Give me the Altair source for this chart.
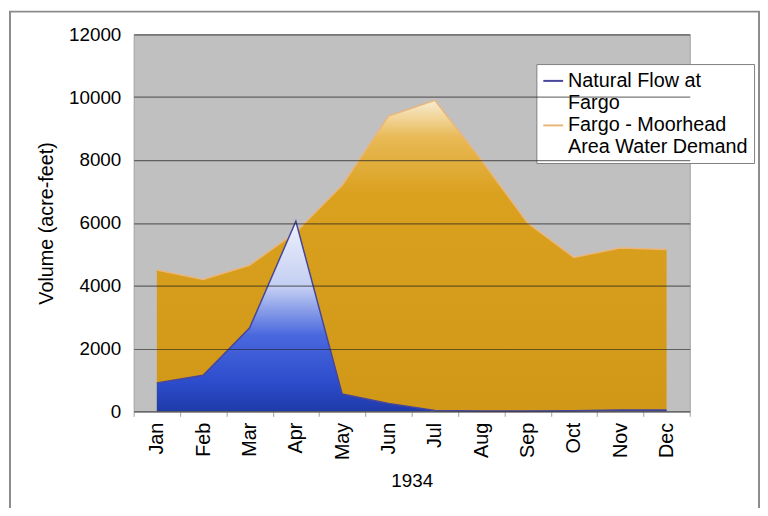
import altair as alt
import pandas as pd

months = ["Jan", "Feb", "Mar", "Apr", "May", "Jun", "Jul", "Aug", "Sep", "Oct", "Nov", "Dec"]
natural_flow = [900, 1150, 2650, 6050, 550, 250, 30, 10, 10, 20, 40, 40]
water_demand = [4500, 4200, 4650, 5700, 7200, 9400, 9900, 8000, 6000, 4900, 5200, 5150]
series_names = ["Natural Flow at Fargo", "Fargo - Moorhead Area Water Demand"]
y_ticks = [0, 2000, 4000, 6000, 8000, 10000, 12000]

rows = []
for m, f, d in zip(months, natural_flow, water_demand):
    rows.append({"month": m, "series": series_names[0], "volume": f})
    rows.append({"month": m, "series": series_names[1], "volume": d})
df = pd.DataFrame(rows)

FONT = "Liberation Sans"

x_enc = alt.X(
    "month:O", sort=months, title="1934",
    scale=alt.Scale(type="band", paddingInner=0, paddingOuter=0),
    bandPosition=0.5,
    axis=alt.Axis(labelAngle=-90, labelAlign="right", labelBaseline="middle",
                  tickBand="extent", tickSize=5, tickColor="#a0a0a0",
                  domainColor="#a0a0a0", labelFontSize=20, labelPadding=6,
                  titleFontSize=19, titleFontWeight="normal", titlePadding=12,
                  labelColor="black", titleColor="black", grid=False),
)
y_enc = alt.Y(
    "volume:Q", title="Volume (acre-feet)",
    scale=alt.Scale(domain=[0, 12000], nice=False),
    axis=alt.Axis(values=y_ticks, format="d", grid=True, gridColor="#202020",
                  gridOpacity=0.6, gridWidth=1.2, zindex=1,
                  domain=False, ticks=False, labelFontSize=19, labelPadding=13,
                  titleFontSize=20, titleFontWeight="normal", titlePadding=12,
                  labelColor="black", titleColor="black"),
)

color_scale = alt.Scale(domain=series_names, range=["#46469a", "#eab57a"])
legend = alt.Legend(
    orient="none", legendX=407, legendY=30, title=None,
    fillColor="white", strokeColor="#808080", padding=6,
    labelFontSize=20, labelFont=FONT, labelColor="black", labelLimit=400,
    symbolType="stroke", symbolSize=400, symbolStrokeWidth=2,
    labelExpr="datum.label == 'Natural Flow at Fargo' ? ['Natural Flow at', 'Fargo'] : ['Fargo - Moorhead', 'Area Water Demand']",
)

orange_grad = alt.LinearGradient(
    gradient="linear", x1=0, x2=0, y1=0, y2=1,
    stops=[alt.GradientStop(offset=0, color="#f8ecd2"),
           alt.GradientStop(offset=0.12, color="#e8b955"),
           alt.GradientStop(offset=0.3, color="#daa11f"),
           alt.GradientStop(offset=1, color="#d19717")],
)
blue_grad = alt.LinearGradient(
    gradient="linear", x1=0, x2=0, y1=0, y2=1,
    stops=[alt.GradientStop(offset=0, color="#eef1fb"),
           alt.GradientStop(offset=0.35, color="#c2cdf2"),
           alt.GradientStop(offset=0.6, color="#4a68de"),
           alt.GradientStop(offset=0.85, color="#2c4ccc"),
           alt.GradientStop(offset=1, color="#1f3aa8")],
)

base = alt.Chart(df)
demand_df = base.transform_filter(alt.datum.series == series_names[1])
flow_df = base.transform_filter(alt.datum.series == series_names[0])

orange_area = demand_df.mark_area(fill=orange_grad).encode(x=x_enc, y=y_enc)
orange_line = demand_df.mark_line(strokeWidth=1.5).encode(
    x=x_enc, y=y_enc, color=alt.Color("series:N", scale=color_scale, legend=legend))
blue_area = flow_df.mark_area(fill=blue_grad).encode(x=x_enc, y=y_enc)
blue_line = flow_df.mark_line(strokeWidth=1.5).encode(
    x=x_enc, y=y_enc, color=alt.Color("series:N", scale=color_scale, legend=legend))

frame = alt.Chart(pd.DataFrame({"a": [0]})).mark_rect(
    fillOpacity=0, stroke="#8c8c8c", strokeWidth=2, clip=False
).encode(x=alt.value(-125), x2=alt.value(632), y=alt.value(-23), y2=alt.value(490))

chart = alt.layer(orange_area, orange_line, blue_area, blue_line, frame).properties(
    width=562, height=381,
    autosize=alt.AutoSizeParams(type="none"),
    padding={"left": 127, "top": 24, "right": 71, "bottom": 95},
    background="white",
).configure(font=FONT).configure_view(fill="#C0C0C0", stroke="#a0a0a0")

chart.save("out.html", embed_options={"renderer": "svg", "actions": False})
